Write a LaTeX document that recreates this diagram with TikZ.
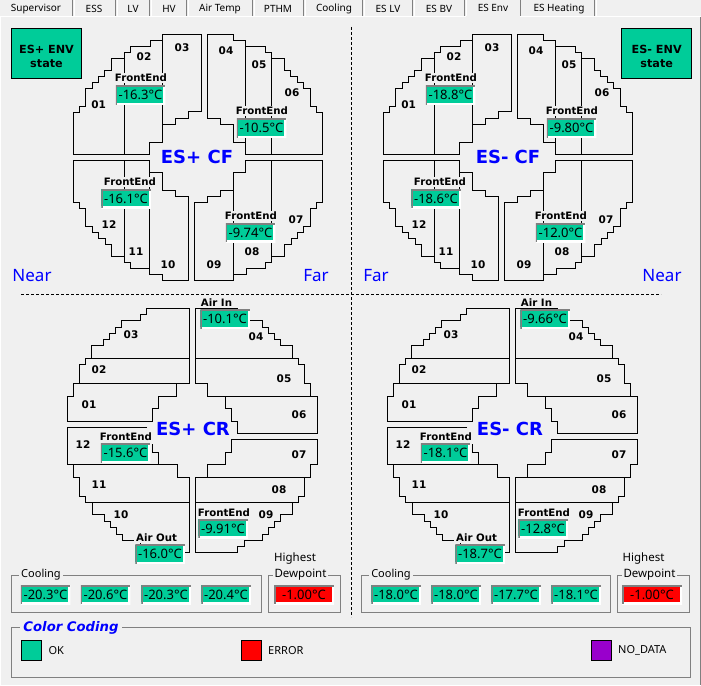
\documentclass[tikz,border=0pt]{standalone}
\usepackage{fontspec}
\setmainfont{Noto Sans}
\newfontfamily\boldface{DejaVu Sans}
\usepackage{xcolor}
\usetikzlibrary{positioning}
\definecolor{panelbg}{RGB}{240,240,240}
\definecolor{okgreen}{RGB}{0,204,153}
\definecolor{errred}{RGB}{255,0,0}
\definecolor{nodatapurple}{RGB}{153,0,204}
\definecolor{titleblue}{RGB}{0,0,255}
\definecolor{framegray}{RGB}{128,128,128}
\newcommand{\fsz}[1]{\fontsize{#1}{#1}\selectfont}
\tikzset{
  sector/.style={draw=black,line width=0.9pt,line join=miter},
  seclabel/.style={font=\fsz{10.5}\boldface\bfseries,inner sep=0pt},
  caption/.style={font=\fsz{10.2}\boldface\bfseries,fill=panelbg,inner xsep=2pt,inner ysep=1.5pt},
  valbox/.style={fill=#1,font=\fsz{13},inner sep=0pt,minimum width=49.5pt,minimum height=19pt,
    path picture={
      \draw[white,line width=3.6pt] (path picture bounding box.south west) -| (path picture bounding box.north east);
      \draw[framegray,line width=3.2pt] (path picture bounding box.south west) |- (path picture bounding box.north east);
    }},
  valbox/.default=okgreen,
  wheeltitle/.style={font=\fsz{18}\boldface\bfseries,text=titleblue,inner sep=0pt},
  sidelabel/.style={font=\fsz{17},text=titleblue,inner sep=0pt},
  statebox/.style={draw=black,line width=0.9pt,fill=okgreen,minimum width=70pt,minimum height=50pt,
    align=center,inner sep=0pt,font=\fsz{11.2}\boldface\bfseries},
  groupframe/.style={draw=framegray,line width=0.9pt},
  grouplabel/.style={font=\fsz{11},fill=panelbg,inner xsep=2pt,inner ysep=1pt},
  legendsq/.style={draw=black,line width=0.8pt,minimum width=20pt,minimum height=20pt,inner sep=0pt},
  legendtxt/.style={font=\fsz{11},inner sep=0pt,anchor=west},
  tablabel/.style={font=\fsz{10},inner sep=0pt},
  guide/.style={line width=0.7pt,dash pattern=on 3pt off 2pt}
}
% forward wheel, four sector groups
\newcommand{\cfplan}[6]{
\draw[sector] (73.5,154.5) |- (79.5,112.5) |- (85.5,106.5) |- (92,88.5) |- (98.5,82) |- (104.5,76) |- (111.5,70) |- (124.5,58.5) |- (130.5,52.5) |- (150,46) |- (162.5,40.5) |- (201.5,34.5) |- (188.5,111.5) |- (175.5,118.5) |- (162.5,124.5) |- (149.5,142.5) |- (73.5,154.5) -- cycle;
\draw[sector] (124.5,58.5) -- (124.5,154.5);
\draw[sector] (162.5,40.5) -- (162.5,124.5);
\draw[sector] (207.5,118.5) |- (233.5,34.5) |- (245.5,40.5) |- (265,46.5) |- (271.5,52.5) |- (284.5,58.5) |- (290.5,70.5) |- (297.5,76.5) |- (303.5,82.5) |- (310,88.5) |- (316.5,106.5) |- (322.5,112.5) |- (245.5,154.5) |- (233.5,142.5) |- (220,124.5) |- (207.5,118.5) -- cycle;
\draw[sector] (245.5,40.5) -- (245.5,154.5);
\draw[sector] (271.5,52.5) -- (271.5,154.5);
\draw[sector] (73.5,202.5) |- (149.5,160.5) |- (162.5,172.5) |- (175.5,190) |- (188.5,196.5) |- (162.5,280.5) |- (149.5,274.5) |- (130.5,268.5) |- (124.5,262.5) |- (111.5,256.5) |- (105.5,244.5) |- (98.5,238.5) |- (92,232.5) |- (85.5,226.5) |- (79.5,208.5) |- (73.5,202.5) -- cycle;
\draw[sector] (124.5,160.5) -- (124.5,262.5);
\draw[sector] (149.5,172.5) -- (149.5,274.5);
\draw[sector] (194.5,280.5) |- (207.5,202.5) |- (220.5,196.5) |- (233.5,190) |- (245.5,172.5) |- (322.5,160.5) |- (316.5,202.5) |- (310,208.5) |- (303.5,226.5) |- (297.5,232.5) |- (291,238.5) |- (284.5,244.5) |- (271.5,256.5) |- (265.5,262.5) |- (246,268.5) |- (233.5,274.5) |- (194.5,280.5) -- cycle;
\draw[sector] (233.5,190) -- (233.5,280.5);
\draw[sector] (271.5,160.5) -- (271.5,256.5);
\foreach \n/\px/\py in {01/98.7/105,02/144/57,03/182/48,04/226/51,05/259/65,06/292/93,07/296/220,08/252/252,09/214/265,10/168/265,11/136/252,12/109/225}
  \node[seclabel] (cf\n) at (\px,\py) {\n};
\node[wheeltitle] (cftitle) at (#2,157) {#1};
\node[caption] (capa) at (141,78) {FrontEnd};
\node[valbox] (vala) at (140.5,95) {#3};
\node[caption] (capb) at (262,111) {FrontEnd};
\node[valbox] (valb) at (261.5,128) {#4};
\node[caption] (capc) at (130,182) {FrontEnd};
\node[valbox] (valc) at (126,198.5) {#5};
\node[caption] (capd) at (251,216) {FrontEnd};
\node[valbox] (vald) at (250.5,232.5) {#6};
}
% rear wheel, four sector groups
\newcommand{\crplan}[6]{
\draw[sector] (67.5,421.5) |- (73.5,396.5) |- (79.5,383.5) |- (85.5,364.5) |- (91.5,358.5) |- (103.5,345.5) |- (109.5,339.5) |- (115.5,333.5) |- (121.5,327) |- (140.5,320.5) |- (146.5,314.5) |- (189.5,308.5) |- (176.5,383.5) |- (158.5,396.5) |- (152.5,408.5) |- (67.5,421.5) -- cycle;
\draw[sector] (85.5,358.5) -- (189.5,358.5);
\draw[sector] (73.5,383.5) -- (189.5,383.5);
\draw[sector] (195.5,383.5) |- (237.5,308.5) |- (262.5,320.5) |- (268.5,327) |- (274.5,333.5) |- (280.5,339.5) |- (292.5,345.5) |- (298.5,358.5) |- (304.5,364.5) |- (310.5,383.5) |- (317.5,396.5) |- (237.5,433.5) |- (231.5,421.5) |- (225.5,408.5) |- (207.5,396.5) |- (195.5,383.5) -- cycle;
\draw[sector] (195.5,358.5) -- (298.5,358.5);
\draw[sector] (207.5,396.5) -- (317.5,396.5);
\draw[sector] (147,427.5) -- (67.5,427.5) -- (67.5,464.5) -- (73.5,464.5) |- (79.5,477.5) |- (85.5,496) |- (92.5,502.5) |- (104.5,514.5) |- (110.5,521.5) |- (116.5,527.5) |- (122.5,534) |- (140.5,540.5) |- (189.5,552.5) |- (177.5,477.5) |- (158.5,464.5) |- (152.5,452.5) -- (152.5,444);
\draw[sector] (73.5,464.5) -- (158.5,464.5);
\draw[sector] (85.5,502.5) -- (189.5,502.5);
\draw[sector] (195.5,552.5) |- (207.5,477.5) |- (225.5,464) |- (231.5,452.5) |- (317.5,439.5) |- (310.5,464) |- (304.5,477.5) |- (298.5,496) |- (292.5,502.5) |- (280.5,514.5) |- (274.5,521.5) |- (268.5,527.5) |- (262.5,534) |- (244,540.5) |- (237.5,546.5) |- (195.5,552.5) -- cycle;
\draw[sector] (195.5,477.5) -- (304.5,477.5);
\draw[sector] (195.5,502.5) -- (298.5,502.5);
\foreach \n/\px/\py in {01/89/405,02/99/370,03/131/335,04/256/337,05/284/379,06/299/415,07/299/454.5,08/279/490,09/266/515,10/121/515,11/99/485,12/83/445}
  \node[seclabel] (cr\n) at (\px,\py) {\n};
\node[wheeltitle] (crtitle) at (#2,429) {#1};
\node[caption,inner xsep=3.5pt] (capin) at (216.5,303) {Air In};
\node[valbox] (valin) at (225,319) {#3};
\node[caption] (capfe) at (126,437) {FrontEnd};
\node[valbox] (valfe) at (125.5,453) {#4};
\node[caption] (capnine) at (224,513) {FrontEnd};
\node[valbox] (valnine) at (223,528.5) {#5};
\node[caption] (capout) at (156.5,538) {Air Out};
\node[valbox] (valout) at (160,554) {#6};
}
\begin{document}
\begin{tikzpicture}[x=1pt,y=-1pt]
\useasboundingbox (0,0) rectangle (701,685);
\fill[panelbg] (0,0) rectangle (701,685);
% tab strip
\draw[white,line width=1pt] (0,16.5) -- (701,16.5);
\fill[panelbg] (466,0) rectangle (520,17.5);
\foreach \lbl/\cx/\rx in {Supervisor/36/73,ESS/94/116,LV/133/150,HV/169/187,Air Temp/220/253,PTHM/278/304,Cooling/334/363,ES LV/388/413,ES BV/439/465,ES Heating/559/595}{
  \node[tablabel] (tab\rx) at (\cx,9) {\lbl};
  \draw[framegray,line width=1.2pt] (\rx-0.5,0) -- (\rx-0.5,16);
  \draw[white,line width=0.8pt] (\rx+1,0) -- (\rx+1,16);
}
\node[tablabel] (tabenv) at (493,8) {ES Env};
\draw[framegray,line width=1.2pt] (520.5,0) -- (520.5,16);
\draw[framegray,line width=1pt] (700.5,17) -- (700.5,685);
\draw[white,line width=1pt] (0.5,17) -- (0.5,685);
% divider lines
\draw[guide] (351.5,27) -- (351.5,617);
\draw[guide] (21,294) -- (661,294);
% state boxes
\node[statebox,minimum width=70.5pt] (stateplus) at (46.5,53.2) {\rule{0pt}{15pt}ES+ ENV\\[3pt]state};
\node[statebox] (stateminus) at (656.7,53.2) {\rule{0pt}{15pt}ES- ENV\\[3pt]state};
% wheels
\cfplan{ES+ CF}{197}{-16.3°C}{-10.5°C}{-16.1°C}{-9.74°C}
\crplan{ES+ CR}{193}{-10.1°C}{-15.6°C}{-9.91°C}{-16.0°C}
\begin{scope}[xshift=310pt,name prefix=m-]
\cfplan{ES- CF}{198}{-18.8°C}{-9.80°C}{-18.6°C}{-12.0°C}
\end{scope}
\begin{scope}[xshift=320pt,name prefix=m-]
\crplan{ES- CR}{190}{-9.66°C}{-18.1°C}{-12.8°C}{-18.7°C}
\end{scope}
\node[sidelabel] (nearplus) at (32,276) {Near};
\node[sidelabel] (farplus) at (316,276) {Far};
\node[sidelabel] (farminus) at (376,276) {Far};
\node[sidelabel] (nearminus) at (662,276) {Near};
% cooling and dewpoint groups
\draw[groupframe] (11.5,575.5) rectangle (261,612.5);
\node[grouplabel] (coolplus) at (41,575) {Cooling};
\foreach \n/\cx/\val in {a/45.5/-20.3°C,b/105.5/-20.6°C,c/166/-20.3°C,d/226/-20.4°C}
  \node[valbox] (coolplus\n) at (\cx,594.5) {\val};
\draw[groupframe] (268.5,575.5) rectangle (340.5,612.5);
\node[font=\fsz{11.5},inner sep=0pt] (highplus) at (295,559) {Highest};
\node[grouplabel,font=\fsz{11.5}] (dewplus) at (300.5,575) {Dewpoint};
\node[valbox=errred,minimum width=60pt] (dewvalplus) at (304,594.5) {-1.00°C};
\draw[groupframe] (361.5,575.5) rectangle (610.5,612.5);
\node[grouplabel] (coolminus) at (391,575) {Cooling};
\foreach \n/\cx/\val in {a/396/-18.0°C,b/456/-18.0°C,c/516/-17.7°C,d/576/-18.1°C}
  \node[valbox] (coolminus\n) at (\cx,594.5) {\val};
\draw[groupframe] (617.5,575.5) rectangle (689.5,612.5);
\node[font=\fsz{11.5},inner sep=0pt] (highminus) at (643.5,559) {Highest};
\node[grouplabel,font=\fsz{11.5}] (dewminus) at (649.5,575) {Dewpoint};
\node[valbox=errred,minimum width=60pt] (dewvalminus) at (652,594.5) {-1.00°C};
% legend
\draw[groupframe] (11.5,627.5) rectangle (690.5,677.5);
\node[grouplabel,font=\fsz{13.2}\boldface\bfseries\itshape,text=titleblue,inner xsep=3pt] (legendtitle) at (71,628) {Color Coding};
\node[legendsq,fill=okgreen] (oksq) at (31.5,650.5) {};
\node[legendtxt] (oktxt) at (48.3,650.5) {OK};
\node[legendsq,fill=errred] (errsq) at (251.5,650.5) {};
\node[legendtxt] (errtxt) at (268,650.5) {ERROR};
\node[legendsq,fill=nodatapurple] (nodatasq) at (601.5,650.5) {};
\node[legendtxt] (nodatatxt) at (618,650.5) {NO\_DATA};
\end{tikzpicture}
\end{document}
